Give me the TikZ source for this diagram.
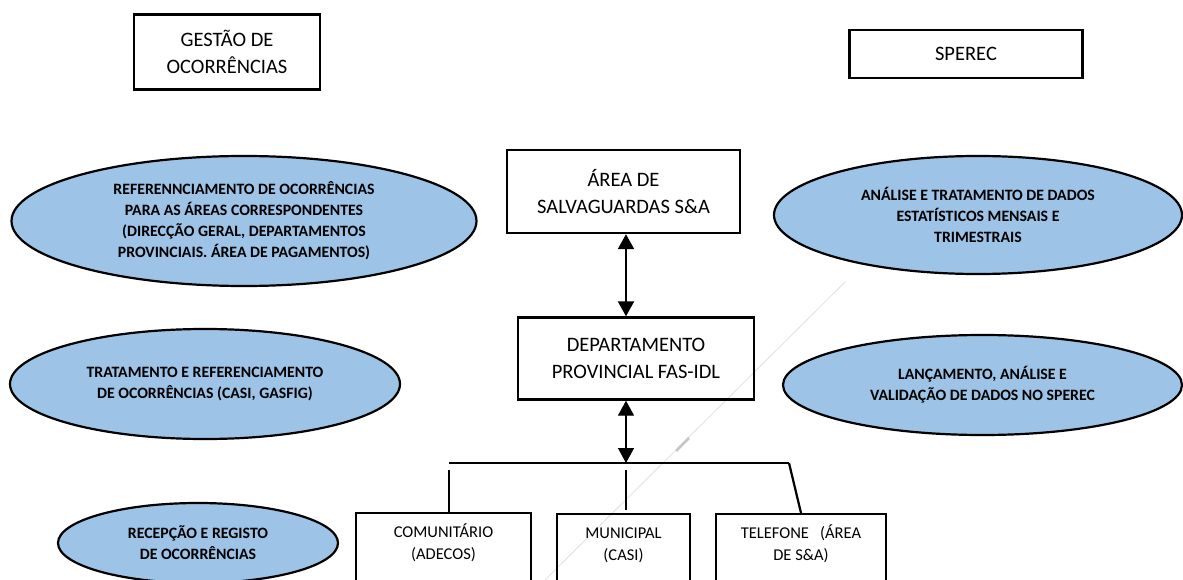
\documentclass[tikz,border=0pt]{standalone}
\usepackage{fontspec}
\setmainfont{Carlito}
\usetikzlibrary{shapes.geometric, arrows.meta, positioning}
\definecolor{bubbleblue}{RGB}{157, 195, 230}

\tikzset{
  headbox/.style={draw, line width=2.4pt, align=center, font=\fontsize{20.5}{26.5}\selectfont},
  leafbox/.style={draw, line width=2.4pt, align=center, anchor=north, inner ysep=11pt, text depth=40pt, font=\fontsize{16.5}{22}\selectfont},
  bubble/.style={ellipse, draw, line width=2.2pt, fill=bubbleblue, inner sep=0pt, align=center, font=\bfseries\fontsize{15.8}{21}\selectfont},
  link/.style={line width=2.2pt},
  twoway/.style={line width=2.2pt, {Triangle[width=16pt, length=15pt]}-{Triangle[width=16pt, length=15pt]}}
}

\begin{document}
\begin{tikzpicture}[x=1pt, y=-1pt]
  \useasboundingbox (0,0) rectangle (1183,580);

  % faint trace across the page
  \draw[gray!25, line width=0.8pt] (845,282) -- (535,590);
  \draw[gray!45, line width=2.5pt] (676,451) -- (689,438);

  % titles
  \node[headbox, minimum width=186pt, minimum height=75pt] (gestao) at (227,52) {GESTÃO DE\\OCORRÊNCIAS};
  \node[headbox, minimum width=233pt, minimum height=48pt] (sperec) at (966,54) {SPEREC};

  % central chain
  \node[headbox, minimum width=233pt, minimum height=83pt] (salva) at (623.5,191.5) {ÁREA DE\\SALVAGUARDAS S\&A};
  \node[headbox, minimum width=236pt, minimum height=82pt] (depto) at (636,358.5) {DEPARTAMENTO\\PROVINCIAL FAS-IDL};

  % channels
  \node[leafbox, minimum width=175pt] (comun) at (443.5,512) {COMUNITÁRIO\\(ADECOS)};
  \node[leafbox, minimum width=133pt] (munic) at (623.5,513) {\vphantom{Á}MUNICIPAL\\(CASI)};
  \node[leafbox, minimum width=170pt] (telef) at (801,513) {TELEFONE\ \ \ (ÁREA\\DE S\&A)};

  % activities
  \node[bubble, minimum width=465pt, minimum height=130pt] (refer) at (244,221) {REFERENNCIAMENTO DE OCORRÊNCIAS\\PARA AS ÁREAS CORRESPONDENTES\\(DIRECÇÃO GERAL, DEPARTAMENTOS\\PROVINCIAIS. ÁREA DE PAGAMENTOS)};
  \node[bubble, minimum width=390pt, minimum height=110pt] (trata) at (205,384) {TRATAMENTO E REFERENCIAMENTO\\DE OCORRÊNCIAS (CASI, GASFIG)};
  \node[bubble, minimum width=280pt, minimum height=80pt] (recep) at (198,543) {RECEPÇÃO E REGISTO\\DE OCORRÊNCIAS};
  \node[bubble, minimum width=408pt, minimum height=118pt] (analise) at (978,215) {ANÁLISE E TRATAMENTO DE DADOS\\ESTATÍSTICOS MENSAIS E\\TRIMESTRAIS};
  \node[bubble, minimum width=399pt, minimum height=100pt] (lanca) at (982.5,385) {LANÇAMENTO, ANÁLISE E\\VALIDAÇÃO DE DADOS NO SPEREC};

  % connectors
  \coordinate (bus) at (626,463);
  \coordinate (busL) at (449,463);
  \coordinate (busR) at (789,463);

  \draw[twoway] (salva.south -| bus) -- (depto.north -| bus);
  \draw[twoway, line width=1.4pt] (depto.south -| bus) -- (bus);
  \draw[link] (busL) -- (busR);
  \draw[link] ([yshift=-7pt]busL) -- (busL |- comun.north);
  \draw[link] ([yshift=-7pt]bus) -- ([yshift=3pt]bus |- munic.north);
  \draw[link] (busR) -- (telef.north);
\end{tikzpicture}
\end{document}
